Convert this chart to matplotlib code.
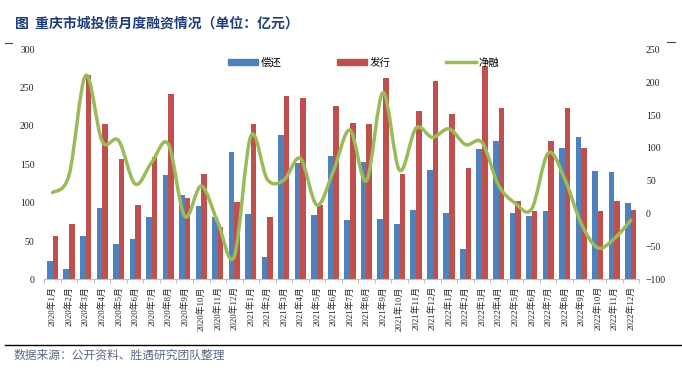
import numpy as np
import matplotlib
matplotlib.use("Agg")
import matplotlib.pyplot as plt
from matplotlib.path import Path
from matplotlib.patches import PathPatch
from matplotlib.lines import Line2D
from matplotlib.patches import Patch

plt.rcParams['font.family'] = ['Liberation Serif', 'Noto Sans CJK SC', 'DejaVu Sans']

# --- data (亿元) ---
months = [f"{y}年{m}月" for y in (2020, 2021, 2022) for m in range(1, 13)]
repay = [24, 13, 56, 93, 46, 52, 81, 136, 110, 95, 81, 166,
         85, 29, 188, 152, 84, 161, 77, 153, 79, 72, 90, 143,
         87, 40, 170, 180, 86, 82, 89, 171, 186, 141, 140, 100]
issue = [56, 72, 266, 203, 157, 97, 159, 242, 106, 137, 68, 101,
         203, 81, 239, 236, 97, 226, 204, 203, 263, 138, 220, 259,
         216, 145, 278, 223, 102, 89, 181, 224, 171, 89, 102, 90]
net = [32, 59, 210, 110, 111, 45, 78, 106, -4, 42, -13, -65,
       118, 52, 51, 84, 13, 65, 127, 50, 184, 66, 130, 116,
       129, 105, 108, 43, 16, 7, 92, 53, -15, -52, -38, -10]

BLUE = '#4F81BD'
RED = '#C0504D'
GREEN = '#9BBB59'


def smooth_path(xs, ys):
    # Excel-style smoothed line: cubic bezier, Catmull-Rom tangents
    pts = np.column_stack([xs, ys]).astype(float)
    verts = [pts[0]]
    codes = [Path.MOVETO]
    n = len(pts)
    for i in range(n - 1):
        p0 = pts[i - 1] if i > 0 else pts[i]
        p1 = pts[i]
        p2 = pts[i + 1]
        p3 = pts[i + 2] if i + 2 < n else pts[i + 1]
        c1 = p1 + (p2 - p0) / 6.0
        c2 = p2 - (p3 - p1) / 6.0
        verts += [c1, c2, p2]
        codes += [Path.CURVE4] * 3
    return Path(verts, codes)


fig = plt.figure(figsize=(6.82, 3.76), dpi=100)
ax = fig.add_axes([0.065, 0.257, 0.872, 0.612])
ax2 = ax.twinx()

x = np.arange(len(months))
w = 0.34
ax.bar(x - w / 2, repay, width=w, color=BLUE, label='偿还', zorder=2)
ax.bar(x + w / 2, issue, width=w, color=RED, label='发行', zorder=2)

ax2.add_patch(PathPatch(smooth_path(x, net), facecolor='none', edgecolor=GREEN,
                        lw=2.5, capstyle='round', joinstyle='round'))

ax.set_xlim(-0.5, len(months) - 0.5)
ax.set_ylim(0, 300)
ax.set_yticks(range(0, 301, 50))
ax2.set_ylim(-100, 250)
ax2.set_yticks(range(-100, 251, 50))

for a in (ax, ax2):
    for s in ('top', 'left', 'right', 'bottom'):
        a.spines[s].set_visible(False)
ax.spines['bottom'].set_visible(True)
ax.spines['bottom'].set_color('#BFBFBF')
ax.spines['bottom'].set_linewidth(0.8)

ax.set_xticks(x)
ax.set_xticklabels(months, rotation=90, fontsize=6.3, color='#222222')
ax.set_xticks(np.arange(-0.5, len(months), 1), minor=True)
ax.tick_params(axis='x', which='major', length=0, pad=5)
ax.tick_params(axis='x', which='minor', length=3, color='#BFBFBF', width=0.8)
ax.tick_params(axis='y', length=0, pad=7, labelsize=7, labelcolor='#222222')
ax2.tick_params(axis='y', length=0, pad=5, labelsize=7, labelcolor='#222222')

handles = [Patch(color=BLUE), Patch(color=RED), Line2D([], [], color=GREEN, lw=2.5)]
leg = ax.legend(handles, ['偿还', '发行', '净融'], ncol=3, loc='upper center',
                bbox_to_anchor=(0.537, 1.005), frameon=False, fontsize=7.5,
                handlelength=2.9, handleheight=0.4, handletextpad=0.25,
                columnspacing=5.3)

fig.text(0.022, 0.937, '图  重庆市城投债月度融资情况（单位：亿元）', fontsize=10,
         fontweight='bold', color='#1F3D7A', family=['Noto Sans CJK SC'], va='center')
fig.text(0.02, 0.055, '数据来源：公开资料、胜遇研究团队整理', fontsize=8.5,
         color='#5A6A85', family=['Noto Sans CJK SC'], va='center')

fig.add_artist(Line2D([0.007, 1.0], [0.082, 0.082], transform=fig.transFigure,
                      color='black', lw=1.0))
fig.add_artist(Line2D([0.007, 0.018], [0.886, 0.886], transform=fig.transFigure,
                      color='#444444', lw=0.8))
fig.add_artist(Line2D([0.978, 0.99], [0.888, 0.888], transform=fig.transFigure,
                      color='#444444', lw=0.8))

fig.savefig('out.png', dpi=100)
